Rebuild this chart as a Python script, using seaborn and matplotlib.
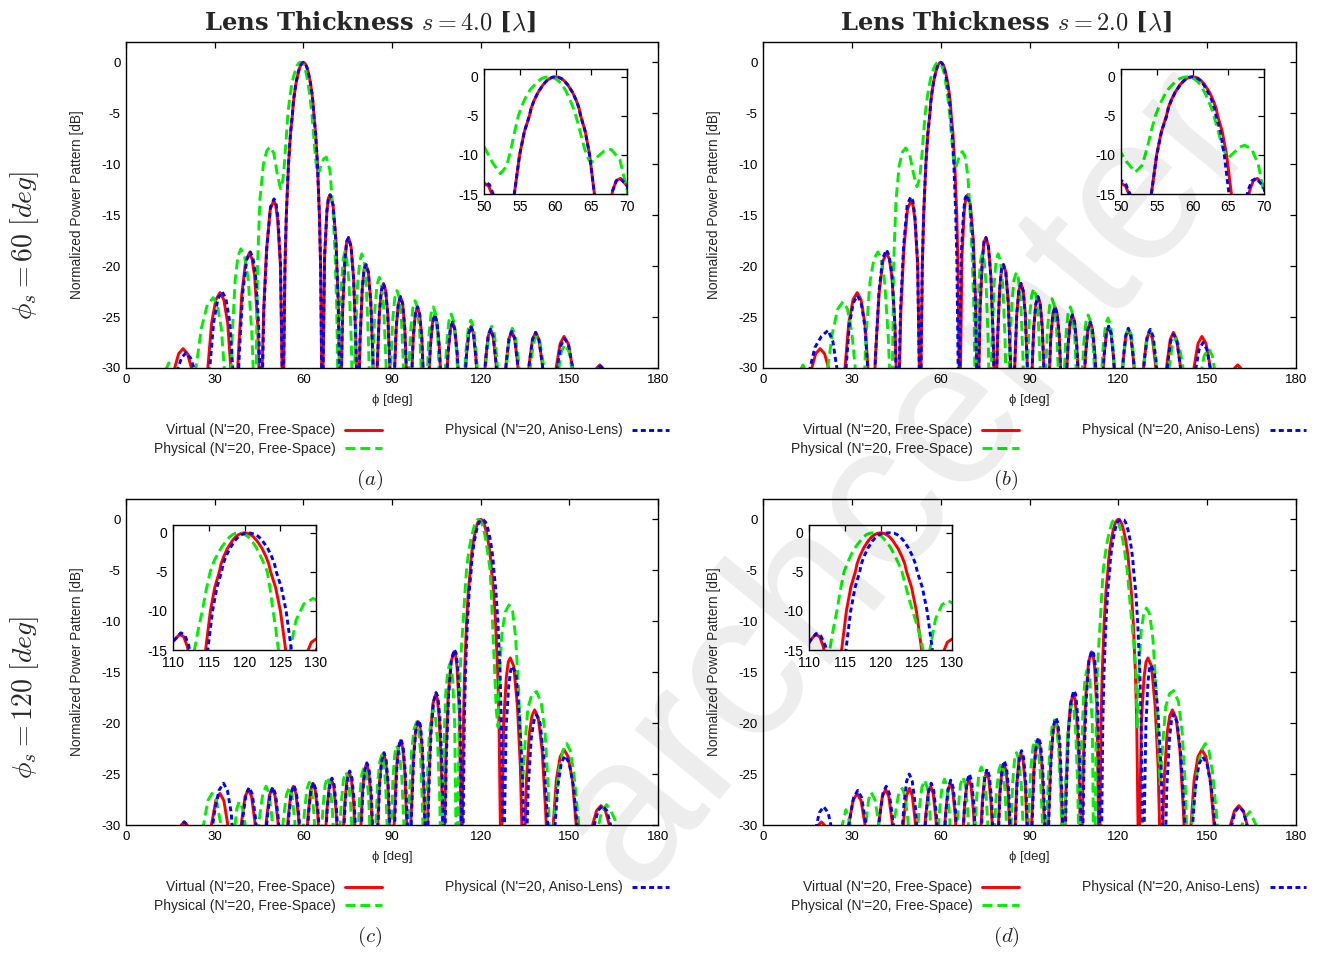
import matplotlib
matplotlib.use("Agg")
import matplotlib.pyplot as plt
import seaborn as sns
from matplotlib.lines import Line2D

# ---------------- data: (phi [deg], normalized power [dB]) ----------------
# Virtual array, free space, phi_s = 60 (same curve in panels a and b)
red60 = [(13.0,-36),(16.0,-30.5),(17.8,-28.6),(19.3,-28.1),(20.8,-28.6),(22.6,-30.5),(25.84,-36),
 (27.43,-30.9),(28.96,-25.6),(30.4,-23.3),(31.8,-22.6),(33.1,-23.3),(34.41,-25.6),(35.66,-30.9),(36.87,-36),
 (38.05,-28.5),(39.19,-22.7),(40.5,-19.5),(41.75,-18.7),(42.65,-19.3),(43.53,-21.0),(44.56,-25.8),(45.57,-36),
 (46.57,-24.3),(47.55,-18.4),(48.8,-14.4),(49.99,-13.6),(50.65,-14.0),(51.32,-15.5),(52.23,-19.9),(53.13,-36),
 (53.35,-30),(53.79,-20),(54.24,-15),(54.98,-10),(55.65,-7),(56.35,-5),(56.60,-4),(57.02,-3),(57.55,-2),(58.28,-1),
 (58.77,-0.5),(59.13,-0.25),(59.57,-0.06),(60.0,0),(60.42,-0.06),(60.86,-0.25),(61.21,-0.5),(61.69,-1),(62.39,-2),
 (62.89,-3),(63.29,-4),(63.52,-5),(64.16,-7),(64.77,-10),(65.44,-15),(65.84,-20),(66.22,-30),(66.42,-36),
 (67.20,-19.0),(67.98,-14.6),(68.5,-13.3),(69.08,-13.0),(70.05,-14.0),(71.03,-17.5),(71.79,-23.4),(72.54,-36),
 (73.29,-24.3),(74.04,-19.5),(74.65,-17.6),(75.29,-17.2),(76.15,-18.1),(77.00,-21.2),(77.73,-27.0),(78.46,-36),
 (79.19,-27.3),(79.92,-22.3),(80.55,-20.3),(81.20,-19.85),(82.0,-20.6),(82.82,-23.55),(83.54,-29.15),(84.26,-36),
 (84.98,-30.0),(85.70,-24.7),(86.4,-22.4),(87.10,-21.7),(87.85,-22.4),(88.57,-24.7),(89.28,-30.0),(90.00,-36),
 (90.72,-31.3),(91.43,-26.0),(92.15,-23.7),(92.87,-23.0),(93.6,-23.7),(94.30,-26.0),(95.02,-31.3),(95.74,-36),
 (96.46,-32.3),(97.18,-27.0),(97.9,-24.7),(98.63,-24.0),(99.35,-24.7),(100.08,-27.0),(100.81,-32.3),(101.54,-36),
 (103.00,-27.8),(103.74,-25.5),(104.48,-24.8),(105.22,-25.5),(105.96,-27.8),(107.46,-36),
 (108.97,-28.5),(109.73,-26.2),(110.49,-25.5),(111.25,-26.2),(112.02,-28.5),(113.58,-36),
 (115.15,-28.9),(115.95,-26.6),(116.74,-25.9),(117.55,-26.6),(118.36,-28.9),(120.00,-36),
 (121.67,-29.2),(122.52,-26.9),(123.37,-26.2),(124.23,-26.9),(125.10,-29.2),(126.87,-36),
 (128.68,-29.4),(129.6,-27.1),(130.54,-26.4),(131.5,-27.1),(132.45,-29.4),(134.43,-36),
 (136.47,-29.5),(137.53,-27.2),(138.59,-26.5),(139.7,-27.2),(140.81,-29.5),(143.13,-36),
 (145.59,-29.9),(146.9,-27.6),(148.21,-26.9),(149.6,-27.6),(151.04,-29.9),(154.16,-36),
 (158.3,-31.0),(159.3,-30.0),(160.3,-29.7),(161.3,-30.0),(162.3,-31.0),(168.0,-36)]

# Virtual array, free space, phi_s = 120 (same curve in panels c and d)
red120 = [(12.0,-36),(17.7,-31.0),(18.7,-30.0),(19.7,-29.7),(20.7,-30.0),(21.7,-31.0),(25.84,-36),
 (28.96,-29.9),(30.4,-27.6),(31.79,-26.9),(33.1,-27.6),(34.41,-29.9),(36.87,-36),
 (39.19,-29.5),(40.3,-27.2),(41.41,-26.5),(42.47,-27.2),(43.53,-29.5),(45.57,-36),
 (47.55,-29.4),(48.5,-27.1),(49.46,-26.4),(50.4,-27.1),(51.32,-29.4),(53.13,-36),
 (54.90,-29.2),(55.77,-26.9),(56.63,-26.2),(57.48,-26.9),(58.33,-29.2),(60.00,-36),
 (61.64,-28.9),(62.45,-26.6),(63.26,-25.9),(64.05,-26.6),(64.85,-28.9),(66.42,-36),
 (67.98,-28.5),(68.75,-26.2),(69.51,-25.5),(70.27,-26.2),(71.03,-28.5),(72.54,-36),
 (74.04,-27.8),(74.78,-25.5),(75.52,-24.8),(76.26,-25.5),(77.00,-27.8),(78.46,-36),
 (79.19,-32.3),(79.92,-27.0),(80.65,-24.7),(81.37,-24.0),(82.1,-24.7),(82.82,-27.0),(83.54,-32.3),(84.26,-36),
 (84.98,-31.3),(85.70,-26.0),(86.4,-23.7),(87.13,-23.0),(87.85,-23.7),(88.57,-26.0),(89.28,-31.3),(90.00,-36),
 (90.72,-30.0),(91.43,-24.7),(92.15,-22.4),(92.90,-21.7),(93.6,-22.4),(94.30,-24.7),(95.02,-30.0),(95.74,-36),
 (96.46,-29.15),(97.18,-23.55),(98.0,-20.6),(98.80,-19.85),(99.45,-20.3),(100.08,-22.3),(100.81,-27.3),(101.54,-36),
 (102.27,-27.0),(103.00,-21.2),(103.85,-18.1),(104.71,-17.2),(105.35,-17.6),(105.96,-19.5),(106.71,-24.3),(107.46,-36),
 (108.21,-23.4),(108.97,-17.5),(109.95,-14.0),(110.92,-13.0),(111.5,-13.3),(112.02,-14.6),(112.80,-19.0),(113.58,-36),
 (113.78,-30),(114.16,-20),(114.56,-15),(115.23,-10),(115.84,-7),(116.48,-5),(116.71,-4),(117.11,-3),(117.61,-2),
 (118.31,-1),(118.79,-0.5),(119.14,-0.25),(119.58,-0.06),(120.0,0),(120.43,-0.06),(120.87,-0.25),(121.23,-0.5),
 (121.72,-1),(122.45,-2),(122.98,-3),(123.40,-4),(123.65,-5),(124.35,-7),(125.02,-10),(125.76,-15),(126.21,-20),
 (126.65,-30),(126.87,-36),
 (127.77,-19.9),(128.68,-15.5),(129.35,-14.0),(130.01,-13.6),(131.2,-14.4),(132.45,-18.4),(133.43,-24.3),(134.43,-36),
 (135.44,-25.8),(136.47,-21.0),(137.35,-19.3),(138.25,-18.7),(139.5,-19.5),(140.81,-22.7),(141.95,-28.5),(143.13,-36),
 (144.34,-30.9),(145.59,-25.6),(146.9,-23.3),(148.2,-22.6),(149.6,-23.3),(151.04,-25.6),(152.57,-30.9),(154.16,-36),
 (157.4,-30.5),(159.2,-28.6),(160.7,-28.1),(162.2,-28.6),(164.0,-30.5),(167.0,-36)]

# Physical array, free space, s = 4.0, phi_s = 60  (panel a)
green60_s4 = [(9.5,-36),(13.0,-30.5),(14.5,-29.5),(16.0,-30.5),(20.5,-36),
 (23.0,-31.4),(25.5,-26.1),(27.5,-23.8),(29.5,-23.1),(30.9,-23.8),(32.25,-26.1),(33.6,-31.4),(35.0,-36),
 (35.98,-26.6),(36.95,-21.3),(37.9,-19.0),(38.9,-18.3),(40.1,-19.0),(41.35,-21.3),(42.58,-26.6),(43.8,-36),
 (44.5,-20.0),(45.3,-13.5),(46.5,-10.0),(47.6,-8.7),(48.7,-8.3),(50.0,-8.9),(51.2,-11.0),(52.3,-12.4),
 (53.1,-11.5),(53.5,-10.3),(53.9,-8.7),(54.35,-6.8),(54.8,-5.0),(55.35,-3.6),(55.9,-2.5),(56.5,-1.6),(57.1,-1.0),
 (57.6,-0.55),(58.0,-0.25),(58.5,-0.07),(59.0,0.0),(59.5,-0.07),(60.0,-0.25),(60.45,-0.55),(60.9,-1.0),(61.45,-1.8),
 (62.0,-2.9),(62.45,-3.9),(62.85,-5.0),(63.25,-6.3),(63.6,-7.6),(64.0,-9.0),(64.3,-9.9),(64.65,-10.6),(65.0,-11.0),
 (65.8,-10.3),(66.8,-9.5),(67.8,-9.3),(69.0,-10.6),(70.0,-14.4),(70.7,-18.5),(71.3,-24.0),(71.9,-36),
 (72.43,-26.9),(72.95,-21.6),(73.5,-19.3),(74.0,-18.6),(74.7,-19.3),(75.45,-21.6),(76.18,-26.9),(76.9,-36),
 (77.63,-27.1),(78.35,-21.8),(79.1,-19.5),(79.8,-18.8),(80.55,-19.5),(81.28,-21.8),(82.01,-27.1),(82.75,-36),
 (83.49,-29.4),(84.23,-24.1),(84.95,-21.8),(85.7,-21.1),(86.45,-21.8),(87.2,-24.1),(87.95,-29.4),(88.7,-36),
 (89.45,-30.7),(90.2,-25.4),(90.95,-23.1),(91.7,-22.4),(92.45,-23.1),(93.23,-25.4),(94.0,-30.7),(94.75,-36),
 (95.5,-31.7),(96.28,-26.4),(97.05,-24.1),(97.8,-23.4),(98.6,-24.1),(99.35,-26.4),(100.1,-31.7),(100.9,-36),
 (101.7,-32.3),(102.45,-27.0),(103.2,-24.7),(104.0,-24.0),(104.75,-24.7),(105.5,-27.0),(106.25,-32.3),(107.0,-36),
 (108.5,-27.7),(109.25,-25.4),(110.0,-24.7),(110.85,-25.4),(111.68,-27.7),(113.35,-36),
 (115.03,-28.3),(115.85,-26.0),(116.7,-25.3),(117.6,-26.0),(118.45,-28.3),(120.2,-36),
 (121.95,-28.9),(122.8,-26.6),(123.7,-25.9),(124.6,-26.6),(125.45,-28.9),(127.2,-36),
 (128.95,-29.1),(129.8,-26.8),(130.7,-26.1),(131.7,-26.8),(132.75,-29.1),(134.8,-36),
 (136.85,-29.8),(137.9,-27.5),(138.9,-26.8),(140.1,-27.5),(141.3,-29.8),(143.7,-36),
 (146.1,-30.7),(147.3,-28.4),(148.5,-27.7),(149.9,-28.4),(151.25,-30.7),(154.0,-36)]

# Physical array, aniso-lens, s = 4.0, phi_s = 60  (panel a)
blue60_s4 = [(14.0,-36),(17.0,-30.5),(18.8,-29.0),(20.3,-28.5),(21.8,-29.0),(23.6,-30.5),(26.4,-36),
 (28.1,-30.8),(29.66,-25.5),(31.1,-23.2),(32.5,-22.5),(33.8,-23.2),(35.1,-25.5),(36.3,-30.8),(37.3,-36),
 (38.35,-28.5),(39.49,-22.6),(40.8,-19.4),(42.05,-18.6),(42.95,-19.2),(43.83,-20.9),(44.86,-25.7),(45.8,-36),
 (46.67,-24.1),(47.65,-18.2),(48.9,-14.2),(50.09,-13.4),(50.75,-13.8),(51.42,-15.3),(52.3,-19.8),(53.13,-36),
 (53.35,-30),(53.79,-20),(54.24,-15),(54.98,-10),(55.65,-7),(56.35,-5),(56.60,-4),(57.02,-3),(57.55,-2),(58.28,-1),
 (58.77,-0.5),(59.13,-0.25),(59.57,-0.06),(60.0,0),(60.42,-0.06),(60.86,-0.25),(61.21,-0.5),(61.69,-1),(62.39,-2),
 (62.89,-3),(63.29,-4),(63.52,-5),(64.16,-7),(64.77,-10),(65.44,-15),(65.84,-20),(66.22,-30),(66.42,-36),
 (67.20,-19.0),(67.98,-14.6),(68.5,-13.3),(69.08,-13.0),(70.05,-14.0),(71.03,-17.5),(71.79,-23.4),(72.54,-36),
 (73.29,-24.3),(74.04,-19.5),(74.65,-17.6),(75.29,-17.2),(76.15,-18.1),(77.00,-21.2),(77.73,-27.0),(78.46,-36),
 (79.19,-27.3),(79.92,-22.3),(80.55,-20.3),(81.20,-19.85),(82.0,-20.6),(82.82,-23.55),(83.54,-29.15),(84.26,-36),
 (84.98,-30.0),(85.70,-24.7),(86.4,-22.4),(87.10,-21.7),(87.85,-22.4),(88.57,-24.7),(89.28,-30.0),(90.00,-36),
 (90.72,-31.3),(91.43,-26.0),(92.15,-23.7),(92.87,-23.0),(93.6,-23.7),(94.30,-26.0),(95.02,-31.3),(95.74,-36),
 (96.46,-32.3),(97.18,-27.0),(97.9,-24.7),(98.63,-24.0),(99.35,-24.7),(100.08,-27.0),(100.81,-32.3),(101.54,-36),
 (103.00,-27.8),(103.74,-25.5),(104.48,-24.8),(105.22,-25.5),(105.96,-27.8),(107.46,-36),
 (108.97,-28.5),(109.73,-26.2),(110.49,-25.5),(111.25,-26.2),(112.02,-28.5),(113.58,-36),
 (115.15,-28.9),(115.95,-26.6),(116.74,-25.9),(117.55,-26.6),(118.36,-28.9),(120.00,-36),
 (121.67,-29.2),(122.52,-26.9),(123.37,-26.2),(124.23,-26.9),(125.10,-29.2),(126.87,-36),
 (128.68,-29.4),(129.6,-27.1),(130.54,-26.4),(131.5,-27.1),(132.45,-29.4),(134.43,-36),
 (136.47,-29.5),(137.53,-27.2),(138.59,-26.5),(139.7,-27.2),(140.81,-29.5),(143.13,-36),
 (145.8,-30.1),(147.1,-27.8),(148.4,-27.1),(149.8,-27.8),(151.2,-30.1),(154.16,-36),
 (158.5,-31.0),(159.5,-30.1),(160.5,-29.8),(161.5,-30.1),(162.5,-31.0),(168.0,-36)]

# Physical array, free space, s = 2.0, phi_s = 60  (panel b)
green60_s2 = [(9.0,-36),(12.0,-30.6),(13.5,-29.7),(15.0,-30.6),(18.5,-36),
 (21.0,-31.8),(23.5,-26.5),(25.25,-24.2),(27.0,-23.5),(28.5,-24.2),(30.0,-26.5),(31.75,-31.8),(33.5,-36),
 (34.8,-26.9),(36.1,-21.6),(37.45,-19.3),(38.8,-18.6),(39.95,-19.3),(41.1,-21.6),(42.3,-26.9),(43.5,-36),
 (44.1,-20.0),(44.9,-13.6),(46.0,-10.1),(47.1,-8.8),(48.2,-8.4),(49.5,-9.0),(50.8,-10.9),(52.0,-12.2),
 (52.9,-11.4),(53.35,-10.1),(53.8,-8.6),(54.3,-6.7),(54.8,-5.0),(55.4,-3.6),(56.0,-2.5),(56.6,-1.6),(57.2,-1.0),
 (57.7,-0.55),(58.2,-0.25),(58.7,-0.07),(59.2,0.0),(59.7,-0.07),(60.2,-0.25),(60.65,-0.55),(61.1,-1.0),(61.65,-1.9),
 (62.2,-3.0),(62.6,-3.9),(63.0,-5.0),(63.4,-6.3),(63.8,-7.7),(64.1,-8.7),(64.4,-9.5),(64.75,-10.0),(65.1,-10.3),
 (65.9,-9.6),(66.6,-9.0),(67.3,-8.75),(68.3,-9.3),(69.2,-11.2),(70.0,-15.0),(70.7,-19.5),(71.3,-25.0),(71.8,-36),
 (72.35,-27.1),(72.9,-21.8),(73.45,-19.5),(74.0,-18.8),(74.7,-19.5),(75.35,-21.8),(76.03,-27.1),(76.7,-36),
 (77.38,-27.1),(78.05,-21.8),(78.7,-19.5),(79.4,-18.8),(80.2,-19.5),(80.95,-21.8),(81.73,-27.1),(82.5,-36),
 (83.28,-28.9),(84.05,-23.6),(84.8,-21.3),(85.6,-20.6),(86.3,-21.3),(87.05,-23.6),(87.78,-28.9),(88.5,-36),
 (89.2,-30.5),(89.95,-25.2),(90.7,-22.9),(91.4,-22.2),(92.2,-22.9),(92.95,-25.2),(93.7,-30.5),(94.5,-36),
 (95.3,-31.5),(96.05,-26.2),(96.8,-23.9),(97.6,-23.2),(98.4,-23.9),(99.15,-26.2),(99.9,-31.5),(100.7,-36),
 (101.5,-32.3),(102.25,-27.0),(103.0,-24.7),(103.8,-24.0),(104.55,-24.7),(105.3,-27.0),(106.05,-32.3),(106.8,-36),
 (108.3,-27.8),(109.05,-25.5),(109.8,-24.8),(110.65,-25.5),(111.48,-27.8),(113.15,-36),
 (114.83,-28.1),(115.65,-25.8),(116.5,-25.1),(117.4,-25.8),(118.25,-28.1),(120.0,-36),
 (121.75,-29.05),(122.6,-26.75),(123.5,-26.05),(124.4,-26.75),(125.25,-29.05),(127.0,-36),
 (128.75,-29.3),(129.6,-27.0),(130.5,-26.3),(131.6,-27.0),(132.7,-29.3),(134.9,-36),
 (137.1,-30.1),(138.2,-27.8),(139.3,-27.1),(140.6,-27.8),(141.9,-30.1),(144.5,-36),
 (147.5,-31.1),(149.0,-28.8),(150.5,-28.1),(151.75,-28.8),(153.0,-31.1),(156.0,-36)]

# Physical array, aniso-lens, s = 2.0, phi_s = 60  (panel b)
blue60_s2 = [(12.0,-36),(15.5,-30.5),(17.5,-28.0),(19.7,-26.9),(22.0,-26.3),(23.6,-27.4),(25.2,-30.5),(26.4,-36),
 (27.75,-31.2),(29.1,-25.9),(30.5,-23.6),(31.9,-22.9),(33.15,-23.6),(34.4,-25.9),(35.65,-31.2),(36.9,-36),
 (38.1,-28.2),(39.2,-22.4),(40.45,-19.2),(41.7,-18.4),(42.6,-19.0),(43.5,-20.7),(44.5,-25.5),(45.5,-36),
 (46.5,-23.9),(47.5,-18.0),(48.7,-14.0),(49.9,-13.2),(50.6,-13.6),(51.3,-15.1),(52.2,-19.5),(53.1,-36),
 (53.35,-30),(53.8,-20),(54.25,-15),(55.0,-10),(55.67,-7),(56.4,-5),(56.63,-4),(57.05,-3),(57.58,-2),(58.3,-1),
 (58.8,-0.5),(59.15,-0.25),(59.58,-0.06),(60.0,0),(60.4,-0.06),(60.8,-0.25),(61.12,-0.5),(61.55,-1),(62.18,-2),
 (62.7,-3),(63.05,-4),(63.3,-5),(63.9,-7),(64.45,-10),(65.1,-15),(65.5,-20),(65.9,-30),(66.1,-36),
 (66.9,-19.0),(67.75,-14.6),(68.3,-13.3),(68.9,-13.0),(69.9,-14.0),(70.9,-17.5),(71.7,-23.4),(72.5,-36),
 (73.29,-24.3),(74.04,-19.5),(74.65,-17.6),(75.29,-17.2),(76.15,-18.1),(77.00,-21.2),(77.73,-27.0),(78.46,-36),
 (79.19,-27.3),(79.92,-22.3),(80.55,-20.3),(81.20,-19.85),(82.0,-20.6),(82.82,-23.55),(83.54,-29.15),(84.26,-36),
 (84.98,-30.0),(85.70,-24.7),(86.4,-22.4),(87.10,-21.7),(87.85,-22.4),(88.57,-24.7),(89.28,-30.0),(90.00,-36),
 (90.72,-31.3),(91.43,-26.0),(92.15,-23.7),(92.87,-23.0),(93.6,-23.7),(94.30,-26.0),(95.02,-31.3),(95.74,-36),
 (96.46,-32.3),(97.18,-27.0),(97.9,-24.7),(98.63,-24.0),(99.35,-24.7),(100.08,-27.0),(100.81,-32.3),(101.54,-36),
 (103.00,-27.8),(103.74,-25.5),(104.48,-24.8),(105.22,-25.5),(105.96,-27.8),(107.46,-36),
 (108.97,-28.5),(109.73,-26.2),(110.49,-25.5),(111.25,-26.2),(112.02,-28.5),(113.58,-36),
 (115.15,-28.9),(115.95,-26.6),(116.74,-25.9),(117.55,-26.6),(118.36,-28.9),(120.00,-36),
 (121.67,-29.1),(122.52,-26.8),(123.37,-26.1),(124.23,-26.8),(125.10,-29.1),(126.87,-36),
 (128.8,-29.2),(129.8,-26.9),(130.8,-26.2),(131.75,-26.9),(132.7,-29.2),(134.6,-36),
 (136.6,-29.7),(137.65,-27.4),(138.7,-26.7),(139.8,-27.4),(140.9,-29.7),(143.2,-36),
 (145.9,-30.5),(147.25,-28.2),(148.6,-27.5),(149.95,-28.2),(151.3,-30.5),(154.2,-36)]

# Physical array, free space, s = 4.0, phi_s = 120  (panel c)
green120_s4 = [(19.0,-36),(26.3,-29.9),(27.7,-27.6),(29.1,-26.9),(30.6,-27.6),(32.05,-29.9),(35.0,-36),
 (36.65,-30.7),(37.5,-28.4),(38.3,-27.7),(39.5,-28.4),(40.65,-30.7),(43.0,-36),
 (45.2,-29.2),(46.3,-26.9),(47.4,-26.2),(48.4,-26.9),(49.35,-29.2),(51.3,-36),
 (53.3,-29.3),(54.3,-27.0),(55.3,-26.3),(56.15,-27.0),(57.0,-29.3),(58.7,-36),
 (60.35,-28.8),(61.2,-26.5),(62.0,-25.8),(62.8,-26.5),(63.55,-28.8),(65.1,-36),
 (66.65,-28.3),(67.4,-26.0),(68.2,-25.3),(69.0,-26.0),(69.75,-28.3),(71.3,-36),
 (72.85,-27.8),(73.6,-25.5),(74.4,-24.8),(75.2,-25.5),(75.95,-27.8),(77.5,-36),
 (78.3,-32.6),(79.05,-27.3),(79.8,-25.0),(80.6,-24.3),(81.35,-25.0),(82.1,-27.3),(82.85,-32.6),(83.6,-36),
 (84.35,-31.4),(85.1,-26.1),(85.85,-23.8),(86.6,-23.1),(87.2,-23.8),(87.85,-26.1),(88.5,-31.4),(89.1,-36),
 (89.7,-30.5),(90.35,-25.2),(91.0,-22.9),(91.6,-22.2),(92.45,-22.9),(93.3,-25.2),(94.1,-30.5),(94.95,-36),
 (95.75,-28.2),(96.6,-22.9),(97.45,-20.6),(98.3,-19.9),(99.0,-20.6),(99.65,-22.9),(100.3,-28.2),(101.0,-36),
 (101.75,-27.0),(102.5,-21.7),(103.25,-19.4),(104.0,-18.7),(104.7,-19.4),(105.4,-21.7),(106.1,-27.0),(106.8,-36),
 (107.5,-22.5),(108.2,-17.0),(108.85,-14.9),(109.5,-14.2),(110.0,-14.6),(110.5,-15.6),(111.2,-20.0),(111.9,-36),
 (112.3,-30),(112.7,-20),(113.0,-15),(113.55,-12.3),(114.1,-10),(114.65,-7.3),(115.2,-5),(115.75,-3.6),(116.3,-2.6),
 (116.9,-1.7),(117.5,-1),(117.9,-0.55),(118.3,-0.25),(118.75,-0.07),(119.2,0),(119.65,-0.07),(120.1,-0.25),
 (120.55,-0.55),(121.0,-1),(121.6,-1.8),(122.2,-2.9),(122.7,-3.9),(123.2,-5),(123.6,-7.3),(124.0,-10),(124.4,-12.5),
 (124.75,-15),(125.3,-18.8),(125.9,-20.4),
 (126.4,-15),(127.2,-11.2),(128.3,-9.1),(129.6,-8.4),(130.8,-9.0),(131.8,-11.5),(132.8,-16.5),(133.6,-22.0),
 (134.2,-26.0),(135.0,-22.0),(136.0,-18.5),(137.3,-17.2),(138.9,-16.9),(140.5,-18.0),(141.8,-21.0),(142.8,-26.0),
 (143.8,-36),(145.0,-29.0),(146.4,-24.8),(147.8,-22.7),(149.1,-22.0),(150.3,-22.7),(151.5,-24.8),(153.2,-30.0),(155.5,-36),
 (159.2,-31.0),(160.9,-28.7),(162.6,-28.0),(164.0,-28.6),(165.5,-29.5),(167.0,-31.0),(169.0,-36)]

# Physical array, aniso-lens, s = 4.0, phi_s = 120  (panel c)
blue120_s4 = [(12.0,-36),(17.7,-31.0),(18.7,-30.0),(19.7,-29.7),(20.7,-30.0),(21.7,-31.0),(26.5,-36),
 (29.9,-28.8),(31.45,-26.6),(33.0,-25.9),(34.3,-26.6),(35.6,-28.8),(37.3,-36),
 (39.5,-29.3),(40.6,-27.0),(41.7,-26.3),(42.75,-27.0),(43.8,-29.3),(45.8,-36),
 (47.8,-29.3),(48.75,-27.0),(49.7,-26.3),(50.6,-27.0),(51.5,-29.3),(53.3,-36),
 (55.1,-29.1),(55.95,-26.8),(56.8,-26.1),(57.65,-26.8),(58.5,-29.1),(60.2,-36),
 (61.8,-28.8),(62.6,-26.5),(63.4,-25.8),(64.2,-26.5),(65.0,-28.8),(66.6,-36),
 (68.1,-28.4),(68.9,-26.1),(69.7,-25.4),(70.45,-26.1),(71.2,-28.4),(72.7,-36),
 (74.2,-27.7),(74.95,-25.4),(75.7,-24.7),(76.45,-25.4),(77.2,-27.7),(78.6,-36),
 (79.35,-32.2),(80.1,-26.9),(80.8,-24.6),(81.5,-23.9),(82.25,-24.6),(83.0,-26.9),(83.7,-32.2),(84.4,-36),
 (85.1,-31.2),(85.85,-25.9),(86.6,-23.6),(87.3,-22.9),(88.0,-23.6),(88.7,-25.9),(89.4,-31.2),(90.15,-36),
 (90.9,-29.9),(91.6,-24.6),(92.3,-22.3),(93.05,-21.6),(93.75,-22.3),(94.45,-24.6),(95.2,-29.9),(95.9,-36),
 (96.6,-29.0),(97.35,-23.4),(98.15,-20.4),(98.95,-19.7),(99.6,-20.2),(100.25,-22.2),(100.95,-27.2),(101.7,-36),
 (102.45,-26.8),(103.2,-21.0),(104.05,-17.9),(104.9,-17.0),(105.5,-17.4),(106.15,-19.3),(106.9,-24.1),(107.65,-36),
 (108.4,-23.2),(109.15,-17.3),(110.1,-13.8),(111.1,-12.8),(111.65,-13.1),(112.2,-14.4),(113.0,-18.8),(113.8,-36),
 (114.08,-30),(114.46,-20),(114.86,-15),(115.53,-10),(116.14,-7),(116.79,-5),(117.01,-4),(117.41,-3),(117.95,-2),
 (118.65,-1),(119.15,-0.5),(119.55,-0.25),(120.05,-0.06),(120.5,0),(120.95,-0.06),(121.6,-0.25),(121.98,-0.5),
 (122.5,-1),(123.25,-2),(123.78,-3),(124.2,-4),(124.45,-5),(125.15,-7),(125.82,-10),(126.56,-15),(127.0,-20),
 (127.45,-30),(127.7,-36),
 (128.6,-20.5),(129.5,-16.3),(130.15,-14.8),(130.8,-14.4),(131.95,-15.2),(133.1,-19.2),(134.1,-25.1),(135.1,-36),
 (136.1,-26.3),(137.1,-21.5),(138.0,-19.8),(138.9,-19.2),(140.1,-20.0),(141.3,-23.2),(142.5,-29.0),(143.7,-36),
 (146.1,-26.2),(147.3,-23.9),(148.5,-23.2),(149.95,-23.9),(151.4,-26.2),(154.5,-36),
 (157.9,-30.6),(159.7,-28.6),(161.2,-28.1),(162.7,-28.6),(164.5,-30.6),(167.5,-36)]

# Physical array, free space, s = 2.0, phi_s = 120  (panel d)
green120_s2 = [(20.0,-36),(25.5,-31.5),(28.0,-28.5),(31.0,-31.5),(33.0,-36),
 (34.8,-29.8),(35.65,-27.5),(36.5,-26.8),(37.8,-27.5),(39.1,-29.8),(41.8,-36),
 (44.4,-29.4),(45.7,-27.1),(47.0,-26.4),(47.95,-27.1),(48.9,-29.4),(50.8,-36),
 (52.7,-28.6),(53.65,-26.3),(54.6,-25.6),(55.45,-26.3),(56.3,-28.6),(58.0,-36),
 (59.65,-28.5),(60.5,-26.2),(61.3,-25.5),(62.1,-26.2),(62.85,-28.5),(64.4,-36),
 (65.95,-28.3),(66.7,-26.0),(67.5,-25.3),(68.3,-26.0),(69.05,-28.3),(70.6,-36),
 (72.15,-27.3),(72.9,-25.0),(73.7,-24.3),(74.55,-25.0),(75.4,-27.3),(77.1,-36),
 (78.8,-26.9),(79.65,-24.6),(80.5,-23.9),(81.15,-24.6),(81.8,-26.9),(83.05,-36),
 (83.65,-31.2),(84.3,-25.9),(84.95,-23.6),(85.6,-22.9),(86.4,-23.6),(87.2,-25.9),(88.0,-31.2),(88.8,-36),
 (89.6,-29.9),(90.4,-24.6),(91.2,-22.3),(92.0,-21.6),(92.8,-22.3),(93.6,-24.6),(94.4,-29.9),(95.2,-36),
 (96.0,-28.0),(96.8,-22.7),(97.6,-20.4),(98.4,-19.7),(99.15,-20.4),(99.9,-22.7),(100.65,-28.0),(101.4,-36),
 (102.15,-26.4),(102.9,-21.1),(103.65,-18.8),(104.4,-18.1),(105.0,-18.8),(105.65,-21.1),(106.3,-26.4),(106.9,-36),
 (107.5,-23.0),(108.2,-17.8),(108.8,-15.5),(109.4,-14.8),(109.9,-15.1),(110.4,-15.8),(111.2,-20.0),(111.8,-36),
 (112.2,-30),(112.55,-20),(112.9,-15),(113.4,-12.3),(113.9,-10),(114.4,-7.3),(114.9,-5),(115.45,-3.7),(116.0,-2.6),
 (116.6,-1.7),(117.2,-1),(117.6,-0.55),(118.0,-0.25),(118.45,-0.07),(118.9,0),(119.35,-0.07),(119.8,-0.25),
 (120.25,-0.55),(120.7,-1),(121.35,-1.8),(122.0,-2.9),(122.5,-3.9),(123.0,-5),(123.5,-6.7),(124.0,-8.5),(124.5,-10.0),
 (125.0,-11.5),(125.5,-13.1),(125.95,-15),(126.4,-20.5),
 (126.9,-15),(127.7,-11.0),(128.6,-9.2),(129.5,-8.7),(130.6,-9.3),(131.7,-11.8),(132.7,-16.5),(133.5,-22.0),
 (134.1,-26.0),(135.0,-22.0),(136.0,-18.4),(137.3,-17.1),(138.7,-16.8),(140.3,-17.9),(141.6,-21.0),(142.6,-26.0),
 (143.6,-36),(145.0,-29.0),(146.6,-24.8),(148.0,-22.7),(149.4,-22.0),(150.6,-22.7),(151.8,-24.8),(153.5,-30.0),(156.0,-36),
 (160.5,-31.0),(162.5,-29.4),(164.4,-28.7),(166.5,-30.0),(168.0,-31.5),(170.0,-36)]

# Physical array, aniso-lens, s = 2.0, phi_s = 120  (panel d)
blue120_s2 = [(14.0,-36),(17.5,-30.8),(19.0,-28.8),(20.5,-28.2),(22.0,-28.8),(23.3,-30.5),(26.0,-36),
 (29.2,-29.6),(30.6,-27.3),(32.0,-26.6),(33.3,-27.3),(34.6,-29.6),(37.1,-36),
 (39.4,-29.2),(40.5,-26.9),(41.6,-26.2),(42.65,-26.9),(43.7,-29.2),(45.7,-36),
 (47.6,-28.0),(48.5,-25.7),(49.4,-25.0),(50.4,-25.7),(51.4,-28.0),(53.3,-36),
 (55.1,-28.9),(55.95,-26.6),(56.8,-25.9),(57.65,-26.6),(58.5,-28.9),(60.2,-36),
 (61.8,-28.6),(62.6,-26.3),(63.4,-25.6),(64.2,-26.3),(65.0,-28.6),(66.6,-36),
 (68.1,-28.0),(68.9,-25.7),(69.7,-25.0),(70.45,-25.7),(71.2,-28.0),(72.7,-36),
 (73.45,-32.8),(74.2,-27.5),(74.95,-25.2),(75.7,-24.5),(76.45,-25.2),(77.2,-27.5),(77.9,-32.8),(78.6,-36),
 (79.35,-32.0),(80.1,-26.7),(80.8,-24.4),(81.5,-23.7),(82.25,-24.4),(83.0,-26.7),(83.7,-32.0),(84.4,-36),
 (85.1,-31.0),(85.85,-25.7),(86.6,-23.4),(87.3,-22.7),(88.0,-23.4),(88.7,-25.7),(89.4,-31.0),(90.15,-36),
 (90.9,-29.7),(91.6,-24.4),(92.3,-22.1),(93.05,-21.4),(93.75,-22.1),(94.45,-24.4),(95.2,-29.7),(95.9,-36),
 (96.6,-28.8),(97.35,-23.2),(98.15,-20.2),(98.95,-19.5),(99.6,-20.0),(100.25,-22.0),(100.95,-27.0),(101.7,-36),
 (102.45,-26.6),(103.2,-20.6),(104.1,-17.7),(105.0,-16.8),(105.6,-17.2),(106.2,-19.1),(106.95,-23.9),(107.7,-36),
 (108.45,-23.3),(109.2,-17.4),(110.1,-13.9),(111.0,-12.9),(111.65,-13.2),(112.3,-14.5),(113.1,-18.9),(113.9,-36),
 (114.38,-30),(114.76,-20),(115.16,-15),(115.83,-10),(116.44,-7),(117.09,-5),(117.31,-4),(117.71,-3),(118.21,-2),
 (118.91,-1),(119.39,-0.5),(119.74,-0.25),(120.5,-0.06),(121.2,0),(121.93,-0.06),(122.37,-0.25),(122.73,-0.5),
 (123.22,-1),(123.95,-2),(124.48,-3),(124.9,-4),(125.15,-5),(125.85,-7),(126.52,-10),(127.26,-15),(127.71,-20),
 (128.15,-30),(128.37,-36),
 (129.3,-20.3),(130.0,-16.0),(130.5,-14.7),(131.0,-14.3),(132.2,-15.1),(133.4,-19.0),(134.5,-24.9),(135.5,-36),
 (136.4,-26.1),(137.3,-21.4),(137.95,-19.7),(138.6,-19.1),(139.85,-19.9),(141.1,-23.1),(142.3,-29.0),(143.6,-36),
 (146.0,-26.3),(147.25,-24.0),(148.5,-23.3),(149.95,-24.0),(151.4,-26.3),(154.5,-36),
 (157.7,-30.7),(159.4,-28.7),(160.8,-28.2),(162.3,-28.7),(164.0,-30.7),(167.0,-36)]

series_labels = ["Virtual (N'=20, Free-Space)", "Physical (N'=20, Free-Space)", "Physical (N'=20, Aniso-Lens)"]
x_ticks = [0, 30, 60, 90, 120, 150, 180]
y_ticks = [0, -5, -10, -15, -20, -25, -30]
thickness = ["4.0", "2.0"]
steer = ["60", "120"]
panel_tags = ["(a)", "(b)", "(c)", "(d)"]
watermark = "archcenter"

# ---------------- styling ----------------
sns.set_theme(style="white")
plt.rcParams['font.family'] = ['Liberation Sans', 'DejaVu Sans']
plt.rcParams['axes.unicode_minus'] = False
plt.rcParams['mathtext.fontset'] = 'cm'

W, H = 1329, 955
fig = plt.figure(figsize=(W / 100, H / 100), dpi=100)
fig.patch.set_facecolor('white')

def fbox(l, t, r, b):
    return [l / W, 1 - b / H, (r - l) / W, (b - t) / H]

LW = 2.1
styles = [dict(color='#ff0000', linestyle='-'),
          dict(color='#00ee00', linestyle=(0, (3.4, 1.7))),
          dict(color='#0000ff', linestyle=(0, (1.7, 1.15)))]

def draw_curves(ax, curves):
    for data, st in zip(curves, styles):
        phi = [p for p, _ in data]
        db = [d for _, d in data]
        sns.lineplot(x=phi, y=db, ax=ax, color=st['color'], linestyle=st['linestyle'],
                     linewidth=LW, estimator=None, sort=False, legend=False)

def style_axes(ax, fs):
    for sp in ax.spines.values():
        sp.set_color('black')
        sp.set_linewidth(1.0)
        sp.set_visible(True)
    ax.tick_params(direction='in', top=True, right=True, length=4.5, width=0.9,
                   labelsize=fs, colors='black', pad=4)
    ax.set_facecolor('white')
    ax.set_xlabel('')
    ax.set_ylabel('')

panels = [
    dict(box=(126, 42, 658, 368), inset=(484, 69, 627, 194), curves=(red60, green60_s4, blue60_s4),
         ixlim=(50, 70), ixt=[50, 55, 60, 65, 70], tag_xy=(370, 480)),
    dict(box=(763, 42, 1296, 368), inset=(1121, 69, 1264, 194), curves=(red60, green60_s2, blue60_s2),
         ixlim=(50, 70), ixt=[50, 55, 60, 65, 70], tag_xy=(1006, 480)),
    dict(box=(126, 499, 658, 825), inset=(173, 525, 316, 650), curves=(red120, green120_s4, blue120_s4),
         ixlim=(110, 130), ixt=[110, 115, 120, 125, 130], tag_xy=(370, 937)),
    dict(box=(763, 499, 1296, 825), inset=(809, 525, 952, 650), curves=(red120, green120_s2, blue120_s2),
         ixlim=(110, 130), ixt=[110, 115, 120, 125, 130], tag_xy=(1006, 937)),
]

legend_handles = [Line2D([], [], linewidth=LW, **st) for st in styles]

for p, tag in zip(panels, panel_tags):
    l, t, r, b = p['box']
    ax = fig.add_axes(fbox(l, t, r, b))
    draw_curves(ax, p['curves'])
    ax.set_xlim(0, 180)
    ax.set_ylim(-30, 2)
    ax.set_xticks(x_ticks)
    ax.set_yticks(y_ticks)
    ax.set_xticklabels([str(v) for v in x_ticks])
    ax.set_yticklabels([str(v) for v in y_ticks])
    style_axes(ax, 9.5)
    ax.set_xlabel('\u03d5 [deg]', fontsize=9.5, labelpad=6)
    ax.set_ylabel('Normalized Power Pattern [dB]', fontsize=9.9, labelpad=12)
    ax.legend(legend_handles, series_labels, ncol=2, markerfirst=False, frameon=False,
              loc='upper left', bbox_to_anchor=(0.052, -0.170), borderpad=0, borderaxespad=0,
              handlelength=2.65, handletextpad=0.72, columnspacing=4.5, labelspacing=0.30,
              fontsize=10)

    il, it, ir, ib = p['inset']
    ins = fig.add_axes(fbox(il, it, ir, ib))
    ins.set_zorder(5)
    draw_curves(ins, p['curves'])
    ins.set_xlim(*p['ixlim'])
    ins.set_ylim(-15, 1)
    ins.set_xticks(p['ixt'])
    ins.set_yticks([0, -5, -10, -15])
    ins.set_xticklabels([str(v) for v in p['ixt']])
    ins.set_yticklabels(['0', '-5', '-10', '-15'])
    style_axes(ins, 10)

    tx, ty = p['tag_xy']
    fig.text(tx / W, 1 - ty / H, r'$' + tag + '$', ha='center', va='center', fontsize=15)

for j, s in enumerate(thickness):
    cx = [370, 1006][j] / W
    fig.text(cx, 1 - 22 / H, 'Lens Thickness $s = ' + s + r'$ [$\lambda$]', ha='center', va='center',
             fontsize=17.5, fontweight='bold', family='DejaVu Serif')

for i, ang in enumerate(steer):
    cy = [245, 697][i]
    fig.text(25 / W, 1 - cy / H, r'$\phi_s = ' + ang + r'\ [deg]$', ha='center', va='center',
             rotation=90, fontsize=20)

# faint diagonal watermark lying over the whole figure
fig.text(905 / W, 1 - 478 / H, watermark, ha='center', va='center', rotation=50.6,
         rotation_mode='anchor', fontsize=150, color='black', alpha=0.075, zorder=100)

fig.savefig('out.png', dpi=100, facecolor='white')
